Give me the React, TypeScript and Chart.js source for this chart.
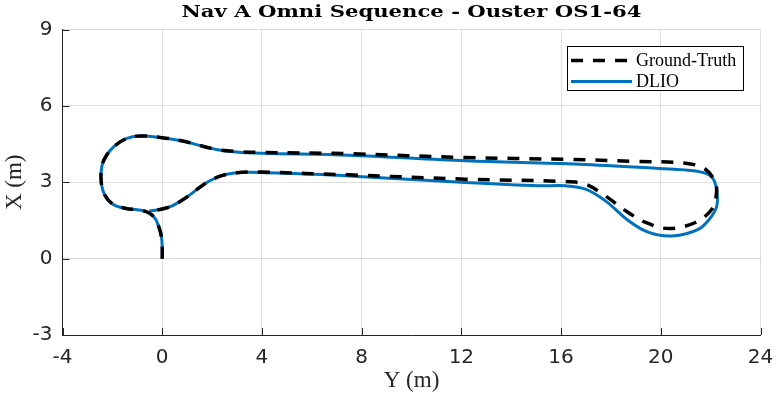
import React, { useEffect, useRef } from "react";
import { Chart, registerables } from "chart.js";

Chart.register(...registerables);

const titleText = "Nav A Omni Sequence - Ouster OS1-64";
const xAxisTitle = "Y (m)";
const yAxisTitle = "X (m)";
const seriesNames = ["Ground-Truth", "DLIO"];
const xTickValues = [-4, 0, 4, 8, 12, 16, 20, 24];
const yTickValues = [-3, 0, 3, 6, 9];

// Ground truth: horizontal "Y (m)" and vertical "X (m)" coordinates
const gtY = [0, 0, -0.03, -0.12, -0.3, -0.6, -1.0, -1.45, -1.98, -2.32, -2.45, -2.42, -2.25, -1.92, -1.45, -0.92, 0, 0.82, 1.49, 2.16, 2.96, 4.0, 7.5, 12.17, 16.18, 19.0, 20.99, 21.79, 22.19, 22.23, 22.05, 21.39, 20.32, 19.39, 18.59, 17.78, 16.98, 16.05, 12.17, 7.5, 4.0, 3.49, 3.0, 2.42, 1.89, 1.49, 0.96, 0.42, 0, -0.52];
const gtX = [0, 0.45, 0.85, 1.2, 1.6, 1.83, 1.92, 1.97, 2.14, 2.53, 3.05, 3.64, 4.03, 4.42, 4.71, 4.82, 4.75, 4.62, 4.45, 4.29, 4.21, 4.17, 4.12, 3.97, 3.9, 3.82, 3.75, 3.51, 2.99, 2.53, 1.94, 1.42, 1.18, 1.42, 1.88, 2.46, 2.92, 3.03, 3.12, 3.29, 3.4, 3.4, 3.37, 3.27, 3.05, 2.79, 2.4, 2.08, 1.95, 1.87];

// DLIO estimate
const dlioY = [0, 0, -0.03, -0.12, -0.3, -0.6, -1.0, -1.45, -1.98, -2.32, -2.45, -2.42, -2.25, -1.92, -1.45, -0.92, 0, 0.82, 1.49, 2.16, 2.96, 4.0, 7.5, 12.17, 16.71, 19.92, 21.39, 21.99, 22.21, 22.26, 22.05, 21.52, 20.45, 19.52, 18.72, 17.78, 16.98, 16.18, 15.11, 12.17, 7.5, 4.0, 3.49, 3.0, 2.42, 1.89, 1.49, 0.96, 0.42, 0, -0.52];
const dlioX = [0, 0.45, 0.85, 1.2, 1.6, 1.83, 1.92, 1.97, 2.14, 2.53, 3.05, 3.64, 4.03, 4.42, 4.71, 4.82, 4.75, 4.62, 4.45, 4.29, 4.19, 4.14, 4.06, 3.84, 3.71, 3.54, 3.44, 3.25, 2.86, 2.14, 1.68, 1.16, 0.89, 1.03, 1.48, 2.27, 2.73, 2.86, 2.86, 2.99, 3.25, 3.38, 3.39, 3.37, 3.27, 3.05, 2.79, 2.4, 2.08, 1.95, 1.87];

const AXIS = "#262626";
const GRID = "rgba(38,38,38,0.15)";
const BLUE = "#0072BD";
const DASH = [12, 10];

const toPts = (xs: number[], ys: number[]) => xs.map((x, i) => ({ x, y: ys[i] }));

const decorPlugin = {
  id: "decor",
  beforeDatasetsDraw(chart: any) {
    const { ctx, chartArea, scales } = chart;
    ctx.save();
    ctx.strokeStyle = AXIS;
    ctx.lineWidth = 1;
    const L = 7;
    scales.x.ticks.forEach((t: any) => {
      const px = Math.round(scales.x.getPixelForValue(t.value)) + 0.5;
      ctx.beginPath();
      ctx.moveTo(px, chartArea.bottom);
      ctx.lineTo(px, chartArea.bottom - L);
      ctx.stroke();
    });
    scales.y.ticks.forEach((t: any) => {
      const py = Math.round(scales.y.getPixelForValue(t.value)) + 0.5;
      ctx.beginPath();
      ctx.moveTo(chartArea.left, py);
      ctx.lineTo(chartArea.left + L, py);
      ctx.stroke();
    });
    ctx.restore();
  },
  afterDraw(chart: any) {
    const { ctx, chartArea } = chart;
    ctx.save();
    // title
    ctx.font = 'bold 17px "DejaVu Serif"';
    ctx.fillStyle = "#000";
    ctx.textBaseline = "alphabetic";
    ctx.textAlign = "left";
    const w = ctx.measureText(titleText).width;
    const target = 460;
    const sx = Math.min(1.35, target / w);
    const cx = (chartArea.left + chartArea.right) / 2;
    ctx.translate(cx - (w * sx) / 2, 17);
    ctx.scale(sx, 1);
    ctx.fillText(titleText, 0, 0);
    ctx.restore();

    // legend
    ctx.save();
    const bx = 567.5, by = 46.5, bw = 176, bh = 44;
    ctx.fillStyle = "#fff";
    ctx.fillRect(bx, by, bw, bh);
    ctx.strokeStyle = "#000";
    ctx.lineWidth = 1;
    ctx.strokeRect(bx, by, bw, bh);
    const rows = [
      { y: 60.5, color: "#000", dash: DASH, w: 3.5 },
      { y: 81.5, color: BLUE, dash: [], w: 3 },
    ];
    ctx.font = '18px "Liberation Serif"';
    ctx.textBaseline = "middle";
    ctx.textAlign = "left";
    rows.forEach((r, i) => {
      ctx.beginPath();
      ctx.setLineDash(r.dash);
      ctx.strokeStyle = r.color;
      ctx.lineWidth = r.w;
      ctx.moveTo(571, r.y);
      ctx.lineTo(632, r.y);
      ctx.stroke();
      ctx.setLineDash([]);
      ctx.fillStyle = "#000";
      ctx.fillText(seriesNames[i], 636, r.y + 1);
    });
    ctx.restore();
  },
};

export default function App() {
  const ref = useRef<HTMLCanvasElement | null>(null);
  useEffect(() => {
    if (!ref.current) return;
    const chart = new Chart(ref.current, {
      type: "scatter",
      data: {
        datasets: [
          {
            label: seriesNames[0],
            data: toPts(gtY, gtX),
            showLine: true,
            borderColor: "#000",
            borderWidth: 3.5,
            borderDash: DASH,
            pointRadius: 0,
            tension: 0.35,
            fill: false,
          },
          {
            label: seriesNames[1],
            data: toPts(dlioY, dlioX),
            showLine: true,
            borderColor: BLUE,
            borderWidth: 3,
            pointRadius: 0,
            tension: 0.35,
            fill: false,
          },
        ],
      },
      options: {
        animation: false,
        responsive: false,
        devicePixelRatio: 1,
        layout: { padding: { top: 29.5, right: 15.5, left: 0, bottom: 0 } },
        plugins: {
          legend: { display: false },
          title: { display: false },
          tooltip: { enabled: false },
        },
        scales: {
          x: {
            type: "linear",
            min: -4,
            max: 24,
            afterBuildTicks: (s: any) => {
              s.ticks = xTickValues.map((v) => ({ value: v }));
            },
            afterFit: (s: any) => {
              s.height = 63;
              s.paddingLeft = 0;
              s.paddingRight = 0;
            },
            ticks: {
              font: { family: "DejaVu Sans", size: 20 },
              color: AXIS,
              padding: 11,
              maxRotation: 0,
            },
            grid: { color: GRID, drawTicks: false, lineWidth: 1 },
            border: { color: AXIS, width: 1 },
            title: {
              display: true,
              text: xAxisTitle,
              font: { family: "Liberation Serif", size: 23 },
              color: AXIS,
              padding: { top: 0, bottom: 3 },
            },
          },
          y: {
            type: "linear",
            min: -3,
            max: 9,
            afterBuildTicks: (s: any) => {
              s.ticks = yTickValues.map((v) => ({ value: v }));
            },
            afterFit: (s: any) => {
              s.width = 62.5;
              s.paddingTop = 0;
              s.paddingBottom = 0;
            },
            ticks: {
              font: { family: "DejaVu Sans", size: 20 },
              color: AXIS,
              padding: 10,
            },
            grid: { color: GRID, drawTicks: false, lineWidth: 1 },
            border: { color: AXIS, width: 1 },
            title: {
              display: true,
              text: yAxisTitle,
              font: { family: "Liberation Serif", size: 23 },
              color: AXIS,
              padding: { top: 1, bottom: 0 },
            },
          },
        },
      },
      plugins: [decorPlugin],
    });
    return () => chart.destroy();
  }, []);
  return (
    <div style={{ position: "fixed", left: 0, top: 0, width: 776, height: 398, background: "#fff" }}>
      <canvas ref={ref} width={776} height={398} style={{ width: 776, height: 398, display: "block" }} />
    </div>
  );
}
